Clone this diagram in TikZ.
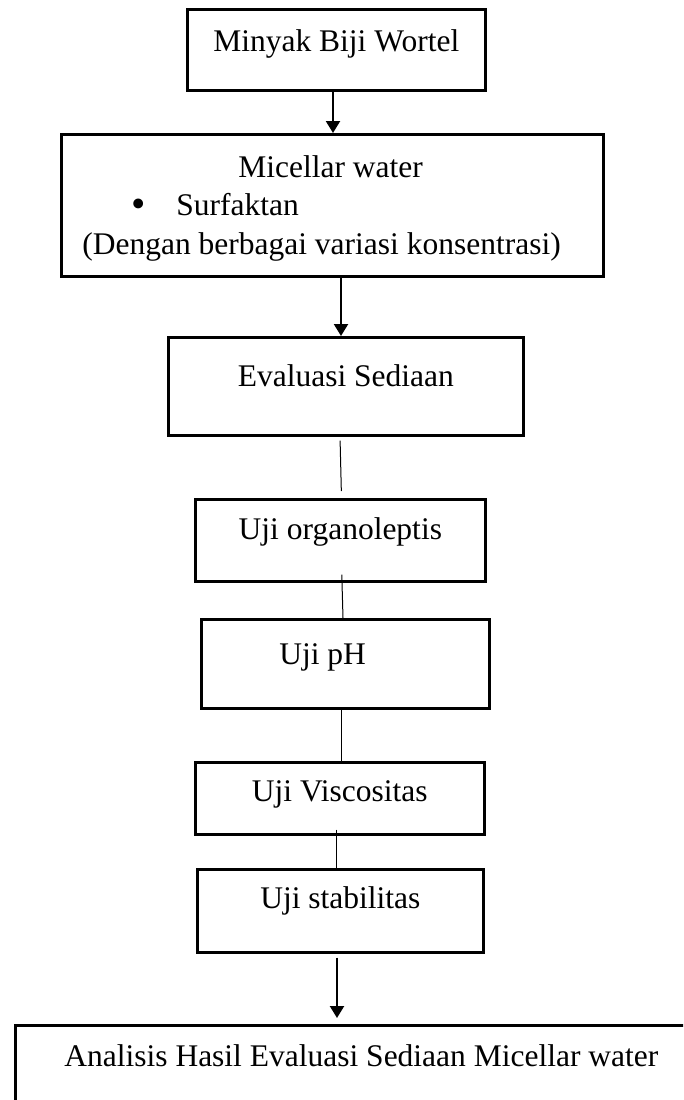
\documentclass[tikz,border=0pt]{standalone}
\usepackage{graphicx}
\usepackage{fontspec}
\setmainfont{Liberation Serif}
\usetikzlibrary{arrows.meta}
\newcommand{\boxtext}[4]{\parbox[c][#2][t]{#1}{\centering\rule{0pt}{#3}#4}}
\begin{document}
\fontsize{31.5pt}{38.5pt}\selectfont
\begin{tikzpicture}[x=1pt,y=-1pt,
  boxstyle/.style={draw, line width=2.7pt, inner sep=0pt, anchor=north west},
  arrowline/.style={line width=2.2pt, -{Triangle[length=12pt,width=14pt]}},
  thinline/.style={line width=1pt}]
\useasboundingbox (0,0) rectangle (683,1100);
\clip (0,0) rectangle (683,1100);

\node[boxstyle] (b1) at (186,8) {\boxtext{298pt}{81pt}{42pt}{Minyak Biji Wortel}};
\node[boxstyle] (b2) at (60,133) {\parbox[c][142pt][t]{542pt}{\raggedright\rule{0pt}{43pt}\hspace*{177pt}Micellar water\\
\hspace*{70pt}\makebox[45pt][l]{\raisebox{-2pt}{\scalebox{1.3}{\textbullet}}}Surfaktan\\
\hspace*{21pt}(Dengan berbagai variasi konsentrasi)}};
\node[boxstyle] (b3) at (167,336) {\boxtext{355pt}{98pt}{49pt}{Evaluasi Sediaan}};
\node[boxstyle] (b4) at (194,498) {\boxtext{290pt}{82pt}{40pt}{Uji organoleptis}};
\node[boxstyle] (b5) at (200,618) {\parbox[c][89pt][t]{288pt}{\raggedright\rule{0pt}{45pt}\hspace*{78pt}Uji pH}};
\node[boxstyle] (b6) at (194,761) {\boxtext{289pt}{72pt}{39pt}{Uji Viscositas}};
\node[boxstyle] (b7) at (196,868) {\boxtext{286pt}{83pt}{39pt}{Uji stabilitas}};
\node[boxstyle] (b8) at (14,1024) {\boxtext{692pt}{130pt}{41pt}{Analisis Hasil Evaluasi Sediaan Micellar water}};

\coordinate (x1) at (333,0);
\coordinate (x2) at (341,0);
\coordinate (x3a) at (340,0);
\coordinate (x3b) at (341.5,0);
\coordinate (x4a) at (342,0);
\coordinate (x4b) at (343,0);
\coordinate (x5) at (341,0);
\coordinate (x6) at (336,0);
\coordinate (x7) at (337,0);

\draw[arrowline] (b1.south -| x1) -- (b2.north -| x1);
\draw[arrowline] (b2.south -| x2) -- (b3.north -| x2);
\draw[thinline, shorten <=4pt, shorten >=7pt] (b3.south -| x3a) -- (b4.north -| x3b);
\draw[thinline, shorten <=-8pt] (b4.south -| x4a) -- (b5.north -| x4b);
\draw[thinline, shorten <=-2pt] (b5.south -| x5) -- (b6.north -| x5);
\draw[thinline, shorten <=-6pt] (b6.south -| x6) -- (b7.north -| x6);
\draw[arrowline, shorten <=4pt, shorten >=6pt] (b7.south -| x7) -- (b8.north -| x7);
\end{tikzpicture}
\end{document}
